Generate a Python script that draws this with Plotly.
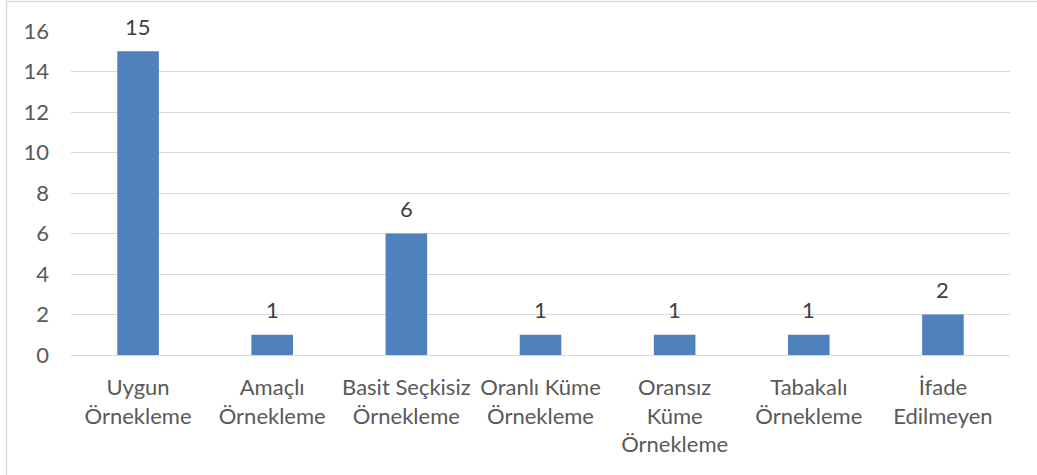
import plotly.graph_objects as go

categories = ["Uygun<br>Örnekleme", "Amaçlı<br>Örnekleme", "Basit Seçkisiz<br>Örnekleme",
              "Oranlı Küme<br>Örnekleme", "Oransız<br>Küme<br>Örnekleme",
              "Tabakalı<br>Örnekleme", "İfade<br>Edilmeyen"]
values = [15, 1, 6, 1, 1, 1, 2]

L, R, T, B = 71, 27, 31, 120
W, H = 1037, 475
pw, ph = W - L - R, H - T - B
FONT = "Lato, Open Sans, sans-serif"

fig = go.Figure(go.Bar(
    x=categories, y=values, marker_color="#4F81BD", marker_line_width=0,
))
for c, v in zip(categories, values):
    fig.add_annotation(x=c, y=v, text=str(v), showarrow=False, yanchor="middle",
                       yshift=25, font=dict(family=FONT, size=22, color="#404040"))

fig.update_layout(
    width=W, height=H, margin=dict(l=L, r=R, t=T, b=B),
    paper_bgcolor="white", plot_bgcolor="white",
    font=dict(family=FONT, size=22, color="#595959"),
    bargap=0.69, showlegend=False,
    xaxis=dict(showline=False, ticks="", tickfont=dict(size=22, color="#595959"),
               tickangle=0, ticklabelstandoff=17),
    yaxis=dict(range=[0, 16], dtick=2, showgrid=True, gridcolor="#D9D9D9", gridwidth=1,
               zeroline=True, zerolinecolor="#D9D9D9", zerolinewidth=1, ticks="",
               tickfont=dict(size=22, color="#595959"), ticklabelstandoff=21),
    shapes=[
        dict(type="line", xref="paper", yref="paper",
             x0=(6.5 - L) / pw, x1=(W - L) / pw,
             y0=(H - B - 1.5) / ph, y1=(H - B - 1.5) / ph,
             line=dict(color="#D9D9D9", width=1.5)),
        dict(type="line", xref="paper", yref="paper",
             x0=(6.5 - L) / pw, x1=(6.5 - L) / pw,
             y0=(H - B - 1.5) / ph, y1=(H - B - H) / ph,
             line=dict(color="#D9D9D9", width=1.5)),
    ],
)
fig.write_html("out.html", config={"displayModeBar": False},
               post_script="document.body.style.margin='0';document.body.style.overflow='hidden';")
